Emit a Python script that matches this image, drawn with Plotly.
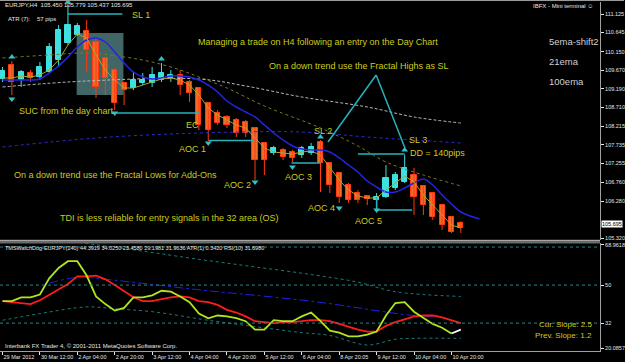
import plotly.graph_objects as go

# ---------------- data ----------------
bars = list(range(50))
opens = [109.442, 109.804, 109.416, 109.597, 109.494, 109.623, 109.934, 110.374, 110.581, 110.685,
         110.400, 109.986, 109.675, 109.338, 109.209, 109.338, 109.338, 109.416, 109.468, 109.545,
         109.364, 109.209, 108.820, 108.561, 108.458, 108.380, 108.328, 108.173, 107.784, 107.525,
         107.603, 107.551, 107.473, 107.525, 107.810, 107.266, 107.007, 106.696, 106.489, 106.412,
         106.308, 106.386, 106.619, 106.774, 106.955, 106.671, 106.489, 106.178, 105.868, 105.712]
highs = [109.753, 109.908, 109.675, 109.675, 109.882, 110.374, 110.840, 111.358, 110.892, 110.970,
         110.504, 110.012, 109.727, 109.364, 109.623, 109.597, 109.753, 109.856, 109.675, 109.675,
         109.416, 109.235, 108.820, 108.639, 108.509, 108.432, 108.380, 108.173, 107.784, 107.707,
         107.655, 107.603, 107.707, 107.784, 107.862, 107.292, 107.033, 106.748, 106.567, 106.437,
         106.489, 107.214, 107.033, 107.473, 107.137, 106.696, 106.515, 106.178, 105.868, 105.764]
lows = [109.364, 109.027, 109.235, 109.364, 109.416, 109.597, 109.753, 110.322, 110.556, 109.623,
        108.950, 109.027, 108.639, 108.768, 109.157, 109.286, 109.235, 109.364, 109.364, 109.027,
        108.846, 108.121, 107.836, 108.250, 108.173, 107.940, 107.940, 106.826, 106.955, 107.473,
        107.344, 107.292, 107.396, 107.473, 106.515, 106.489, 106.230, 106.230, 106.230, 106.178,
        106.101, 106.360, 106.567, 106.748, 105.919, 105.919, 105.790, 105.531, 105.453, 105.453]
closes = [109.649, 109.364, 109.623, 109.468, 109.753, 110.271, 110.711, 110.840, 110.815, 110.193,
          109.235, 109.468, 108.820, 109.157, 109.416, 109.416, 109.545, 109.597, 109.545, 109.286,
          109.079, 108.250, 108.121, 108.302, 108.250, 108.043, 108.043, 107.344, 107.344, 107.655,
          107.422, 107.396, 107.655, 107.681, 107.266, 106.696, 106.386, 106.308, 106.308, 106.334,
          106.386, 106.878, 106.955, 107.137, 106.386, 106.178, 105.868, 105.660, 105.479, 105.583]

ema21 = [109.416, 109.416, 109.416, 109.416, 109.442, 109.597, 109.779, 110.012, 110.271, 110.452,
         110.504, 110.400, 110.141, 109.856, 109.623, 109.494, 109.442, 109.468, 109.520, 109.520,
         109.494, 109.416, 109.286, 109.105, 108.872, 108.717, 108.587, 108.458, 108.250, 108.043,
         107.862, 107.707, 107.629, 107.603, 107.603, 107.551, 107.396, 107.214, 107.033, 106.800,
         106.645, 106.515, 106.515, 106.619, 106.748, 106.852, 106.696, 106.437, 106.204, 105.997,
         105.894, 105.816]
ema5_shift2 = [109.468, 109.468, 109.520, 109.494, 109.545, 109.675, 109.934, 110.322, 110.607, 110.504,
               110.064, 109.675, 109.416, 109.209, 109.209, 109.286, 109.364, 109.442, 109.468, 109.416,
               109.286, 109.027, 108.691, 108.509, 108.380, 108.250, 108.173, 107.914, 107.655, 107.551,
               107.525, 107.499, 107.551, 107.577, 107.473, 107.137, 106.826, 106.567, 106.412, 106.360,
               106.360, 106.567, 106.748, 106.930, 106.774, 106.437, 106.178, 105.919, 105.660, 105.583]
ema100_bars = [0, 9, 21, 26, 32, 39, 44, 49]
ema100 = [109.235, 109.390, 109.442, 109.261, 108.976, 108.717, 108.458, 108.302]
olive_bars = [0, 5, 9, 13, 16, 19, 21, 24, 28, 34, 38, 41, 45, 49]
olive_vals = [109.986, 110.064, 110.115, 110.012, 109.882, 109.675, 109.494, 109.209, 108.743,
              108.173, 107.707, 107.292, 106.955, 106.671]
bluedot_bars = [0, 10, 21, 32, 39, 49]
bluedot_vals = [107.681, 107.914, 108.043, 108.069, 107.940, 107.784]

frac_up_bars = [1, 7, 17, 34, 43]
frac_up_prices = [110.012, 111.436, 109.960, 107.940, 107.603]
frac_dn_bars = [1, 12, 22, 27, 31, 36, 40]
frac_dn_prices = [108.924, 108.561, 107.784, 106.774, 107.163, 106.101, 106.049]

# hand-drawn trend objects: (bar0, price0, bar1, price1)
trend_segments = [
    (6.97, 111.125, 12.82, 111.125),   # SL 1
    (12.2, 108.561, 21.0, 108.561),    # SUC
    (22.07, 107.85, 26.9, 107.85),     # AOC 1
    (30.9, 107.266, 34.0, 107.266),    # AOC 3
    (38.0, 107.499, 43.0, 107.499),    # DD
    (40.0, 106.386, 40.0, 106.049),    # AOC 5 vertical
    (40.0, 106.049, 43.8, 106.049),    # AOC 5 horizontal
    (34.8, 107.81, 39.95, 109.545),    # fractal highs triangle
    (39.95, 109.545, 43.03, 107.655),
]
box = (7.93, 109.027, 12.93, 110.633)

rsi_green = [42.4, 42.4, 44.2, 44.2, 45.5, 53.2, 58.1, 61.3, 61.3, 54.5,
             44.6, 41.0, 37.9, 39.2, 44.2, 44.2, 45.1, 47.3, 46.9, 44.6,
             41.9, 36.5, 34.3, 35.6, 35.2, 34.3, 32.9, 28.9, 28.9, 33.4,
             32.9, 32.9, 35.2, 37.0, 32.9, 28.4, 27.5, 25.7, 25.7, 26.6,
             28.0, 35.6, 41.5, 41.9, 37.4, 34.3, 31.6, 29.8, 27.1, 28.9]
signal_red = [42.4, 41.9, 41.5, 41.0, 42.8, 45.5, 47.8, 50.5, 54.1, 54.1,
              54.5, 52.7, 50.0, 47.3, 44.2, 42.4, 42.4, 43.3, 44.2, 44.6,
              44.2, 42.4, 41.9, 40.6, 38.3, 37.0, 35.2, 32.9, 32.5, 32.0,
              32.5, 32.5, 32.9, 33.4, 33.4, 32.9, 31.6, 30.2, 28.9, 28.0,
              28.0, 30.7, 32.5, 33.8, 35.2, 35.6, 35.6, 34.7, 33.4, 32.0]
mid_bars = [5, 8, 11, 21, 33, 44, 47]
mid_vals = [50.92, 53.62, 52.72, 47.77, 42.36, 35.60, 35.15]
upper_bars = [5, 14, 21, 27, 33, 38, 42, 49]
upper_vals = [72.0, 66.68, 62.18, 58.58, 54.97, 51.37, 46.86, 44.61]
lower_bars = [0, 4, 9, 12, 16, 22, 28, 32, 35, 39, 42, 44, 49]
lower_vals = [33.35, 36.50, 39.66, 38.76, 37.41, 33.35, 29.75, 27.50, 26.14, 21.64, 24.34, 24.79, 24.79]
ind_levels = [68, 50, 32]

price_ticks = [111.125, 110.645, 110.150, 109.670, 109.190, 108.710, 108.215, 107.735,
               107.255, 106.760, 106.280, 105.320]
ind_ticks = [68.9618, 50, 32, 20.0857]
ind_tick_text = ["68.9618", "50", "32", "20.0857"]
time_label_bars = [0, 4, 8, 12, 16, 20, 24, 28, 32, 36, 40, 44, 48]
time_labels = ["29 Mar 2012", "30 Mar 12:00", "2 Apr 04:00", "2 Apr 20:00", "3 Apr 12:00",
               "4 Apr 04:00", "4 Apr 20:00", "5 Apr 12:00", "6 Apr 04:00", "8 Apr 20:05",
               "9 Apr 12:00", "10 Apr 04:00", "10 Apr 20:00"]
last_price = 105.695

# ---------------- styling ----------------
BULL = "#3fe0e0"
BEAR_FILL = "#f26a2a"
BEAR_LINE = "#ff3a10"
DRAW = "#26b4bc"
YEL = "#cccc1c"
WHITE = "#e6e6e6"
SMALLFAM = "Liberation Sans"
SMALL = dict(family=SMALLFAM, size=5.5, color=WHITE)

W, H = 625, 362
ML, MR, MT, MB = 0, 22, 2, 11
PW, PH = W - ML - MR, H - MT - MB


def pxx(px):
    return (px - ML) / PW


def pxy(py):
    return (H - MB - py) / PH


fig = go.Figure()

# candle wicks
for is_bull, col in [(True, BULL), (False, BEAR_LINE)]:
    wx, wy = [], []
    for i in bars:
        if (closes[i] >= opens[i]) == is_bull:
            wx += [i, i, None]
            wy += [lows[i], highs[i], None]
    fig.add_trace(go.Scatter(x=wx, y=wy, mode="lines", line=dict(color=col, width=1),
                             hoverinfo="skip", xaxis="x", yaxis="y"))

# candle bodies
for is_bull, fill, line in [(True, BULL, BULL), (False, BEAR_FILL, BEAR_LINE)]:
    bx = [i for i in bars if (closes[i] >= opens[i]) == is_bull]
    base = [min(opens[i], closes[i]) for i in bx]
    hgt = [max(abs(closes[i] - opens[i]), 0.012) for i in bx]
    fig.add_trace(go.Bar(x=bx, y=hgt, base=base, width=0.55,
                         marker=dict(color=fill, line=dict(color=line, width=1)),
                         xaxis="x", yaxis="y", hoverinfo="skip"))

# moving averages
fig.add_trace(go.Scatter(x=bluedot_bars, y=bluedot_vals, mode="lines", line_shape="spline",
                         line=dict(color="#2a2ad8", width=1, dash="dot"), xaxis="x", yaxis="y"))
fig.add_trace(go.Scatter(x=olive_bars, y=olive_vals, mode="lines", line_shape="spline",
                         line=dict(color="#7a7a1e", width=1, dash="dot"), xaxis="x", yaxis="y"))
fig.add_trace(go.Scatter(x=ema100_bars, y=ema100, mode="lines", line_shape="spline",
                         line=dict(color="#b8b8b8", width=1, dash="3px,2px"), xaxis="x", yaxis="y"))
fig.add_trace(go.Scatter(x=list(range(len(ema21))), y=ema21, mode="lines", line_shape="spline",
                         line=dict(color="#2424e6", width=1.5), xaxis="x", yaxis="y"))
fig.add_trace(go.Scatter(x=bars, y=ema5_shift2, mode="lines",
                         line=dict(color="#a8a824", width=1), xaxis="x", yaxis="y"))

# trend drawings
tx, ty = [], []
for x0, y0, x1, y1 in trend_segments:
    tx += [x0, x1, None]
    ty += [y0, y1, None]
fig.add_trace(go.Scatter(x=tx, y=ty, mode="lines", line=dict(color=DRAW, width=1.5),
                         xaxis="x", yaxis="y"))

# fractals
fig.add_trace(go.Scatter(x=frac_up_bars, y=frac_up_prices, mode="markers",
                         marker=dict(symbol="triangle-up", size=6, color="#2cc4c8"),
                         xaxis="x", yaxis="y", cliponaxis=False))
fig.add_trace(go.Scatter(x=frac_dn_bars, y=frac_dn_prices, mode="markers",
                         marker=dict(symbol="triangle-down", size=6, color="#2cc4c8"),
                         xaxis="x", yaxis="y"))

# indicator panel
fig.add_trace(go.Scatter(x=upper_bars, y=upper_vals, mode="lines", line_shape="spline",
                         line=dict(color="#1e7a7a", width=1, dash="dot"), xaxis="x2", yaxis="y2"))
fig.add_trace(go.Scatter(x=lower_bars, y=lower_vals, mode="lines", line_shape="spline",
                         line=dict(color="#1e7a7a", width=1, dash="dot"), xaxis="x2", yaxis="y2"))
fig.add_trace(go.Scatter(x=mid_bars, y=mid_vals, mode="lines", line_shape="spline",
                         line=dict(color="#2020e8", width=1, dash="dashdot"), xaxis="x2", yaxis="y2"))
fig.add_trace(go.Scatter(x=bars, y=signal_red, mode="lines",
                         line=dict(color="#ff1c1c", width=1.8), xaxis="x2", yaxis="y2"))
fig.add_trace(go.Scatter(x=bars[:-1], y=rsi_green[:-1], mode="lines",
                         line=dict(color="#b0e61e", width=1.8), xaxis="x2", yaxis="y2"))
fig.add_trace(go.Scatter(x=bars[-2:], y=rsi_green[-2:], mode="lines",
                         line=dict(color="#ffffff", width=1.8), xaxis="x2", yaxis="y2"))

# ---------------- layout ----------------
xr = [(0 - 2.5) / 9.4, (PW - 2.5) / 9.4]
price_dom = [pxy(240), 1.0]
ind_dom = [0.0, pxy(243)]
price_range = [111.488 - 0.0259 * 240, 111.488 - 0.0259 * 2]

shapes = [
    dict(type="rect", xref="x", yref="y", x0=box[0], x1=box[2], y0=box[1], y1=box[3],
         fillcolor="rgba(110,170,170,0.6)", line=dict(width=0), layer="below"),
    dict(type="rect", xref="paper", yref="paper", x0=0, x1=1, y0=pxy(243.5), y1=pxy(240),
         fillcolor="#6a6a6a", line=dict(width=0)),
    dict(type="line", xref="paper", yref="paper", x0=0, x1=1, y0=pxy(240.3), y1=pxy(240.3),
         line=dict(color="#b4b4b4", width=1)),
    dict(type="line", xref="paper", yref="paper", x0=0, x1=1.04, y0=pxy(0.5), y1=pxy(0.5),
         line=dict(color="#9a9a9a", width=1)),
]
for lv in ind_levels:
    shapes.append(dict(type="line", xref="paper", yref="y2", x0=0, x1=1, y0=lv, y1=lv,
                       line=dict(color="#1e8a8a", width=1, dash="dot")))

ann = []


def txt(text, x, y, color=YEL, size=9, anchor="left", xref="x", yref="y", family="Liberation Sans"):
    ann.append(dict(text=text, x=x, y=y, xref=xref, yref=yref, xanchor=anchor, yanchor="middle",
                    showarrow=False, font=dict(family=family, size=size, color=color)))


txt("SL 1", 13.6, 111.10)
txt("Managing a trade on H4 following an entry on the Day Chart", 20.7, 110.40)
txt("On a down trend use the Fractal Highs as SL", 28.25, 109.78)
txt("SUC from the day chart", 1.54, 108.613)
txt("EC", 19.4, 108.25)
txt("AOC 1", 18.7, 107.63)
txt("On a down trend use the Fractal Lows for Add-Ons", 1.0, 106.955)
txt("TDI is less reliable for entry signals in the 32 area (OS)", 5.9, 105.84)
txt("AOC 2", 23.46, 106.70)
txt("AOC 3", 29.95, 106.90)
txt("AOC 4", 32.4, 106.10)
txt("AOC 5", 37.5, 105.76)
txt("SL 2", 33.1, 108.095)
txt("SL 3", 43.2, 107.86)
txt("DD = 140pips", 43.35, 107.525)
txt("5ema-shift2", 58.25, 110.42, color="#cfcfcf", size=9.5)
txt("21ema", 58.25, 109.908, color="#cfcfcf", size=9.5)
txt("100ema", 58.25, 109.39, color="#cfcfcf", size=9.5)

txt("EURJPY,H4\u00a0\u00a0105.450\u00a0105.779\u00a0105.437\u00a0105.695", pxx(3), pxy(5),
    color=WHITE, size=6, xref="paper", yref="paper", family=SMALLFAM)
txt("ATR\u00a0(7):\u00a0\u00a0\u00a0\u00a057\u00a0pips", pxx(6), pxy(19),
    color=WHITE, size=6, xref="paper", yref="paper", family=SMALLFAM)
txt("IBFX - Mini terminal \u263a", pxx(598), pxy(6), color=WHITE, size=6, anchor="right",
    xref="paper", yref="paper", family=SMALLFAM)
txt("TMSWatchDog-EURJPY(240) 44.3919 34.0250 23.4580 29.1981 31.9636 ATR(1) 0.3420 RSI(10) 31.6980",
    pxx(3), pxy(248), color=WHITE, size=5.5, xref="paper", yref="paper", family=SMALLFAM)
txt("Interbank FX Trader 4, \u00a9 2001-2011 MetaQuotes Software Corp.", pxx(3), pxy(346),
    color=WHITE, size=6, xref="paper", yref="paper", family=SMALLFAM)
txt("Cur. Slope: 2.5", pxx(597), pxy(324), size=8, anchor="right", xref="paper", yref="paper")
txt("Prev. Slope: 1.2", pxx(597), pxy(335), size=8, anchor="right", xref="paper", yref="paper")

ann.append(dict(text="105.695", x=1.0, y=last_price, xref="paper", yref="y", xanchor="left",
                yanchor="middle", showarrow=False, bgcolor="#ffffff", borderpad=0,
                xshift=1, font=dict(family=SMALLFAM, size=5.5, color="#000000")))

axis_common = dict(showgrid=False, zeroline=False, fixedrange=True)

fig.update_layout(
    width=W, height=H, margin=dict(l=ML, r=MR, t=MT, b=MB),
    paper_bgcolor="#000000", plot_bgcolor="#000000",
    showlegend=False, barmode="overlay", bargap=0,
    xaxis=dict(domain=[0, 1], range=xr, anchor="y", showticklabels=False, ticks="",
               showline=False, **axis_common),
    yaxis=dict(domain=price_dom, range=price_range, side="right", anchor="x",
               tickvals=price_ticks, ticktext=[f"{v:.3f}" for v in price_ticks],
               ticks="outside", ticklen=3, tickcolor=WHITE, tickfont=SMALL,
               showline=True, linecolor="#a0a0a0", linewidth=1, **axis_common),
    xaxis2=dict(domain=[0, 1], range=xr, anchor="y2", tickvals=time_label_bars,
                ticktext=time_labels, ticks="outside", ticklen=3, tickcolor=WHITE,
                tickfont=SMALL, ticklabelposition="outside right", tickangle=0,
                showline=True, linecolor="#a0a0a0", linewidth=1, **axis_common),
    yaxis2=dict(domain=ind_dom, range=[18.8, 69.9], side="right", anchor="x2",
                tickvals=ind_ticks, ticktext=ind_tick_text, ticks="outside", ticklen=3,
                tickcolor=WHITE, tickfont=SMALL, showline=True, linecolor="#a0a0a0",
                linewidth=1, **axis_common),
    shapes=shapes, annotations=ann,
)

fig.write_html("out.html")
